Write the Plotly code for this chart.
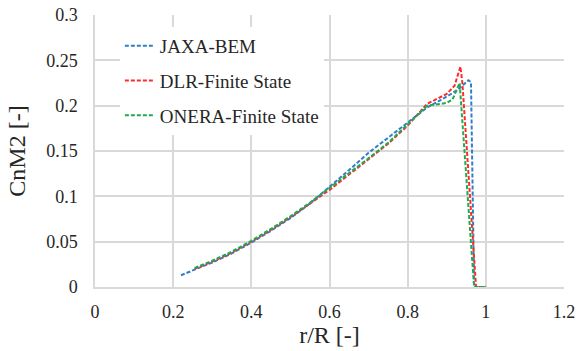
import plotly.graph_objects as go

jaxa_x = [0.22, 0.25, 0.30, 0.35, 0.40, 0.45, 0.50, 0.55, 0.60, 0.65, 0.70, 0.75, 0.80, 0.85, 0.90, 0.93, 0.955, 0.962, 0.970, 1.00]
jaxa_y = [0.013, 0.018, 0.027, 0.037, 0.049, 0.062, 0.076, 0.092, 0.110, 0.129, 0.148, 0.165, 0.182, 0.198, 0.210, 0.218, 0.228, 0.226, 0.0, 0.0]

dlr_x = [0.255, 0.30, 0.35, 0.40, 0.45, 0.50, 0.55, 0.60, 0.65, 0.70, 0.75, 0.80, 0.85, 0.90, 0.92, 0.935, 0.94, 0.975, 1.00]
dlr_y = [0.020, 0.028, 0.038, 0.050, 0.063, 0.077, 0.092, 0.107, 0.124, 0.141, 0.158, 0.178, 0.202, 0.213, 0.222, 0.243, 0.225, 0.0, 0.0]

onera_x = [0.255, 0.30, 0.35, 0.40, 0.45, 0.50, 0.55, 0.60, 0.65, 0.70, 0.75, 0.80, 0.85, 0.90, 0.915, 0.933, 0.945, 0.970, 1.00]
onera_y = [0.021, 0.029, 0.039, 0.051, 0.064, 0.078, 0.093, 0.109, 0.125, 0.142, 0.159, 0.180, 0.200, 0.203, 0.207, 0.225, 0.150, 0.0, 0.0]

x_ticks = [0, 0.2, 0.4, 0.6, 0.8, 1.0, 1.2]
x_tick_text = ["0", "0.2", "0.4", "0.6", "0.8", "1", "1.2"]
y_ticks = [0, 0.05, 0.1, 0.15, 0.2, 0.25, 0.3]
y_tick_text = ["0", "0.05", "0.1", "0.15", "0.2", "0.25", "0.3"]

names = ["JAXA-BEM", "DLR-Finite State", "ONERA-Finite State"]
colors = ["#2e7fc8", "#ff2a2a", "#1faa4e"]

fig = go.Figure()
for i, (xs, ys) in enumerate([(jaxa_x, jaxa_y), (dlr_x, dlr_y), (onera_x, onera_y)]):
    fig.add_trace(go.Scatter(x=xs, y=ys, mode="lines", name=names[i], legendgroup=names[i],
                             line=dict(color=colors[i], width=2, dash="4px,2px")))

font = "Liberation Serif, Times New Roman, serif"
txt = "#262626"
fig.update_layout(
    width=577, height=351,
    margin=dict(l=95, r=13, t=15, b=64, autoexpand=False),
    paper_bgcolor="white", plot_bgcolor="white",
    font=dict(family=font, size=18, color=txt),
    legend=dict(x=0.053, y=0.956, xanchor="left", yanchor="top", bgcolor="white",
                font=dict(family=font, size=19, color=txt),
                traceorder="grouped", tracegroupgap=7),
    xaxis=dict(range=[0, 1.2], tickvals=x_ticks, ticktext=x_tick_text,
               showgrid=True, gridcolor="#d9d9d9", gridwidth=1.5, zeroline=False,
               showline=True, linecolor="#d9d9d9", linewidth=1.5,
               title=dict(text="r/R [-]", font=dict(family=font, size=24, color=txt), standoff=2),
               ticks="", ticklabelstandoff=8,
               tickfont=dict(family=font, size=18, color=txt), automargin=False),
    yaxis=dict(range=[0, 0.3], tickvals=y_ticks, ticktext=y_tick_text,
               showgrid=True, gridcolor="#d9d9d9", gridwidth=1.5, zeroline=False,
               showline=True, linecolor="#d9d9d9", linewidth=1.5,
               title=dict(text="CnM2 [-]", font=dict(family=font, size=24, color=txt), standoff=14),
               ticks="", ticklabelstandoff=12,
               tickfont=dict(family=font, size=18, color=txt), automargin=False),
)
fig.write_html("out.html")
